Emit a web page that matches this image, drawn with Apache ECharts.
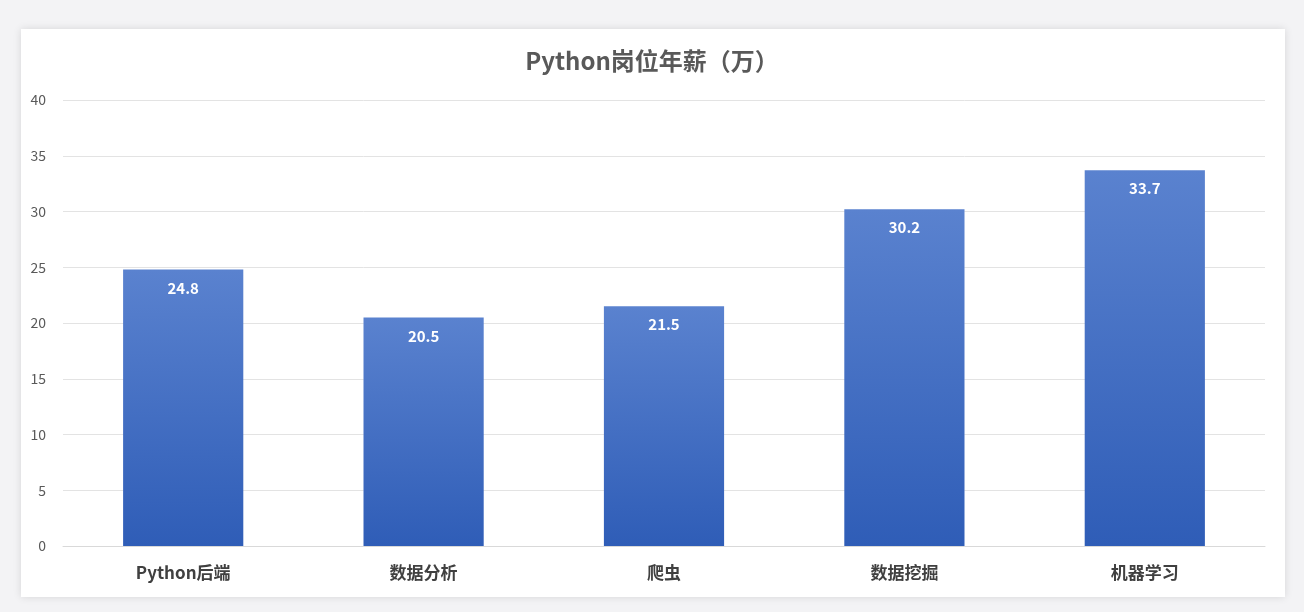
<!DOCTYPE html>
<html><head><meta charset="utf-8">
<script src="https://cdn.jsdelivr.net/npm/echarts@6/dist/echarts.min.js"></script>
<style>html,body{margin:0;padding:0;background:#f3f3f5}#c{width:1304px;height:612px}</style>
</head><body><div id="c"></div>
<script>
const categories = ['Python后端', '数据分析', '爬虫', '数据挖掘', '机器学习'];
const salaries = [24.8, 20.5, 21.5, 30.2, 33.7];
const yTicks = [0, 5, 10, 15, 20, 25, 30, 35, 40];
const titleText = 'Python岗位年薪（万）';

const chart = echarts.init(document.getElementById('c'));
const font = '"Noto Sans CJK SC", "Open Sans", sans-serif';
chart.setOption({
  backgroundColor: '#f3f3f5',
  animation: false,
  graphic: [{
    type: 'rect', z: -10, silent: true,
    shape: { x: 21, y: 29, width: 1264, height: 568 },
    style: { fill: '#ffffff', shadowBlur: 8, shadowColor: 'rgba(0,0,0,0.12)' }
  }],
  title: {
    text: titleText, left: 'center', top: 44,
    textStyle: { fontFamily: font, fontSize: 24, fontWeight: 'bold', color: '#595959' }
  },
  grid: { left: 63, right: 39, top: 100, bottom: 66 },
  xAxis: {
    type: 'category', data: categories,
    axisLine: { lineStyle: { color: '#d9d9d9' } },
    axisTick: { show: false },
    axisLabel: { fontFamily: font, fontSize: 17, fontWeight: 'bold', color: '#404040', margin: 18 }
  },
  yAxis: {
    type: 'value', min: yTicks[0], max: yTicks[yTicks.length - 1], interval: 5,
    axisLine: { show: false }, axisTick: { show: false },
    splitLine: { lineStyle: { color: '#e3e3e3' } },
    axisLabel: { fontFamily: font, fontSize: 14, color: '#595959', margin: 17 }
  },
  series: [{
    type: 'bar', data: salaries, barWidth: '50%',
    itemStyle: {
      color: new echarts.graphic.LinearGradient(0, 0, 0, 1, [
        { offset: 0, color: '#5a82cf' },
        { offset: 1, color: '#2f5db7' }
      ])
    },
    label: {
      show: true, position: 'insideTop', distance: 11,
      fontFamily: font, fontSize: 15, fontWeight: 'bold', color: '#ffffff'
    }
  }]
});
</script></body></html>
